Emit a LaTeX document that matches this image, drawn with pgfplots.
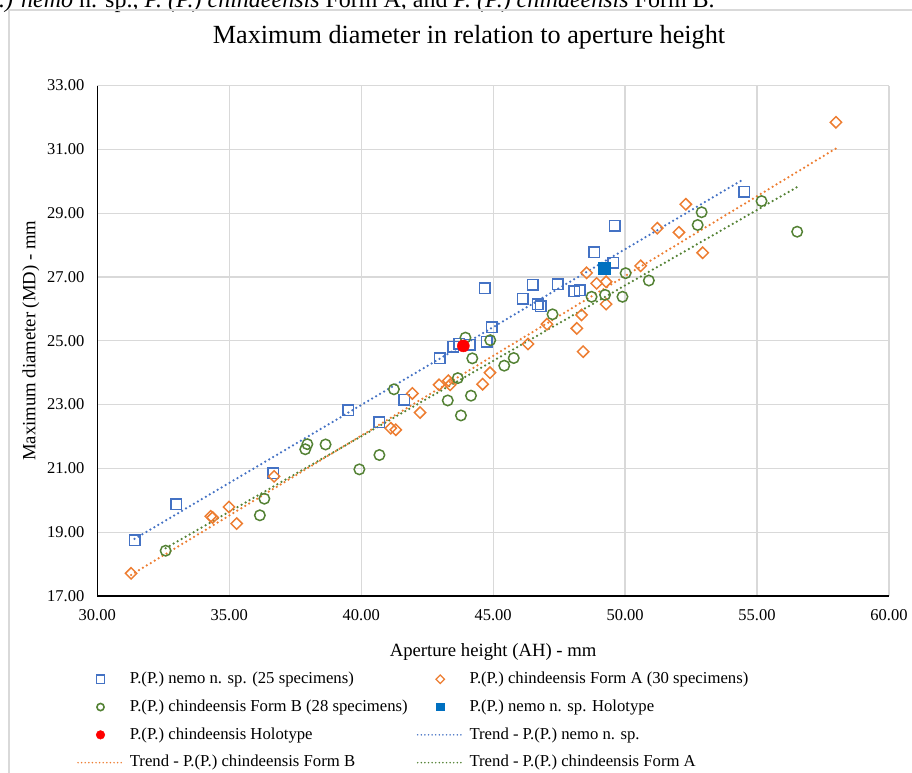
\documentclass[border=0pt]{standalone}
\usepackage{pgfplots}
\pgfplotsset{compat=1.18}
\usepackage{fontspec}
\setmainfont{Liberation Serif}
\definecolor{cblue}{HTML}{4472C4}
\definecolor{corange}{HTML}{ED7D31}
\definecolor{cgreen}{HTML}{548235}
\definecolor{choloblue}{HTML}{0070C0}
\definecolor{cgrid}{HTML}{D9D9D9}
\pgfplotsset{
  markleg/.style 2 args={legend image code/.code={\path[draw=none,fill=none] (0pt,-6pt) rectangle (45pt,6pt);
      \draw[##1, mark size=#1, every mark/.append style={line width=#2}] plot coordinates {(23.5pt,0pt)};}},
  lineleg/.style={legend image code/.code={\path[draw=none,fill=none] (0pt,-6pt) rectangle (45pt,6pt);
      \draw[##1, line width=1.7pt, dash pattern=on 0pt off 3.6pt] (1pt,0pt) -- (45pt,0pt);}},
}
\begin{document}
\begin{tikzpicture}[x=1pt,y=1pt]
\path[use as bounding box] (0,0) rectangle (912,772);
\node[anchor=base west, inner sep=0pt, font=\fontsize{24}{28}\selectfont] at (-1,764.7)
  {\textit{.) nemo} n. sp., \textit{P.\ (P.) chindeensis} Form A, and \textit{P.\ (P.) chindeensis} Form B.};
\draw[cgrid, line width=1.3pt] (9,-20) -- (9,762) -- (940,762);
\begin{axis}[
  at={(97.3pt,176pt)}, anchor=south west, scale only axis,
  width=791.7pt, height=510.4pt,
  xmin=30, xmax=60, ymin=17, ymax=33,
  xtick={30,35,...,60}, ytick={17,19,...,33},
  grid=major, major grid style={cgrid, line width=1.3pt},
  axis lines=left, axis line style={-, black, line width=1.3pt},
  major tick length=0pt,
  tick label style={font=\fontsize{16.5}{19}\selectfont},
  /pgf/number format/.cd, fixed, fixed zerofill, precision=2, assume math mode=true, /pgfplots/.cd,
  xticklabel style={yshift=-10pt},
  yticklabel style={xshift=-9.5pt},
  title={Maximum diameter in relation to aperture height},
  title style={at={(axis description cs:0.4695,1.0711)}, anchor=base, font=\fontsize{26.2}{30}\selectfont, inner sep=0pt},
  xlabel={Aperture height (AH) - mm},
  xlabel style={at={(axis description cs:0.5,-0.1176)}, anchor=base, font=\fontsize{18.7}{22}\selectfont, inner sep=0pt},
  ylabel={Maximum diameter (MD) - mm},
  ylabel style={at={(axis description cs:-0.0781,0.5)}, anchor=base, font=\fontsize{18.7}{22}\selectfont, inner sep=0pt},
  legend columns=2, legend cell align=left,
  legend style={draw=none, fill=none, at={(axis description cs:-0.02564,-0.1440)}, anchor=north west,
    inner sep=0pt, outer sep=0pt, font=\fontsize{16.7}{20}\selectfont, row sep=8.3pt,
    nodes={inner sep=2pt, text height=12pt, text depth=3.5pt},
    /tikz/every odd column/.append style={column sep=5pt},
    /tikz/every even column/.append style={column sep=7pt}},
]
% P.(P.) nemo n. sp.
\addplot[only marks, mark=square, mark size=5.25pt, mark options={draw=cblue, line width=1.5pt, fill=none},
  markleg={4.2pt}{1.3pt}]
coordinates {(31.41,18.75) (33.00,19.87) (36.67,20.85) (39.51,22.83) (40.69,22.45) (41.63,23.15) (42.98,24.46) (43.49,24.82) (43.72,24.90) (44.12,24.88) (44.76,24.97) (44.95,25.43) (44.69,26.65) (46.12,26.32) (46.50,26.75) (46.69,26.15) (46.81,26.09) (47.44,26.78) (48.08,26.56) (48.29,26.59) (48.83,27.77) (49.21,27.27) (49.56,27.45) (49.61,28.61) (54.52,29.67)};
\addlegendentry{P.(P.) nemo n. sp. (25 specimens)}
% Form A
\addplot[only marks, mark=square, mark size=4pt, mark options={rotate=45, draw=corange, line width=1.5pt, fill=none},
  markleg={3pt}{1.3pt}]
coordinates {(31.28,17.71) (34.30,19.50) (34.37,19.46) (34.99,19.79) (35.28,19.27) (36.70,20.75) (41.12,22.26) (41.31,22.21) (41.94,23.35) (42.23,22.75) (42.95,23.62) (43.30,23.75) (43.37,23.62) (44.60,23.64) (44.88,24.00) (46.32,24.90) (47.04,25.52) (48.17,25.39) (48.35,25.81) (48.41,24.66) (48.54,27.13) (48.92,26.80) (49.28,26.85) (49.28,26.15) (50.59,27.35) (51.22,28.53) (52.04,28.40) (52.30,29.28) (52.94,27.76) (57.99,31.85)};
\addlegendentry{P.(P.) chindeensis Form A (30 specimens)}
% Form B
\addplot[only marks, mark=o, mark size=5.25pt, mark options={draw=cgreen, line width=1.5pt, fill=none},
  markleg={3.6pt}{1.6pt}]
coordinates {(32.59,18.42) (36.16,19.53) (36.33,20.05) (37.88,21.60) (37.96,21.76) (38.65,21.75) (39.93,20.97) (40.69,21.42) (41.24,23.48) (43.28,23.13) (43.66,23.83) (43.78,22.66) (43.95,25.10) (44.21,24.45) (44.16,23.28) (44.89,25.02) (45.42,24.22) (45.78,24.46) (47.25,25.83) (48.73,26.38) (49.24,26.44) (49.90,26.38) (50.02,27.12) (50.90,26.89) (52.75,28.63) (52.90,29.03) (55.17,29.38) (56.52,28.42)};
\addlegendentry{P.(P.) chindeensis Form B (28 specimens)}
% nemo holotype
\addplot[only marks, mark=square*, mark size=5.8pt, mark options={draw=choloblue, fill=choloblue, line width=1pt},
  markleg={3.8pt}{1pt}]
coordinates {(49.21,27.27)};
\addlegendentry{P.(P.) nemo n. sp. Holotype}
% chindeensis holotype
\addplot[only marks, mark=*, mark size=6pt, mark options={draw=red, fill=red, line width=0.5pt},
  markleg={4.3pt}{0.5pt}]
coordinates {(43.87,24.84)};
\addlegendentry{P.(P.) chindeensis Holotype}
% trends
\addplot[cblue, no marks, line width=2.5pt, line cap=round, dash pattern=on 0pt off 4.6pt, lineleg]
coordinates {(31.41,18.79) (54.52,30.08)};
\addlegendentry{Trend - P.(P.) nemo n. sp.}
\addplot[corange, no marks, line width=2.5pt, line cap=round, dash pattern=on 0pt off 4.6pt, lineleg]
coordinates {(31.28,17.66) (57.99,31.03)};
\addlegendentry{Trend - P.(P.) chindeensis Form B}
\addplot[cgreen, no marks, line width=2.5pt, line cap=round, dash pattern=on 0pt off 4.6pt, lineleg]
coordinates {(32.59,18.50) (56.52,29.82)};
\addlegendentry{Trend - P.(P.) chindeensis Form A}
\end{axis}
\end{tikzpicture}
\end{document}
